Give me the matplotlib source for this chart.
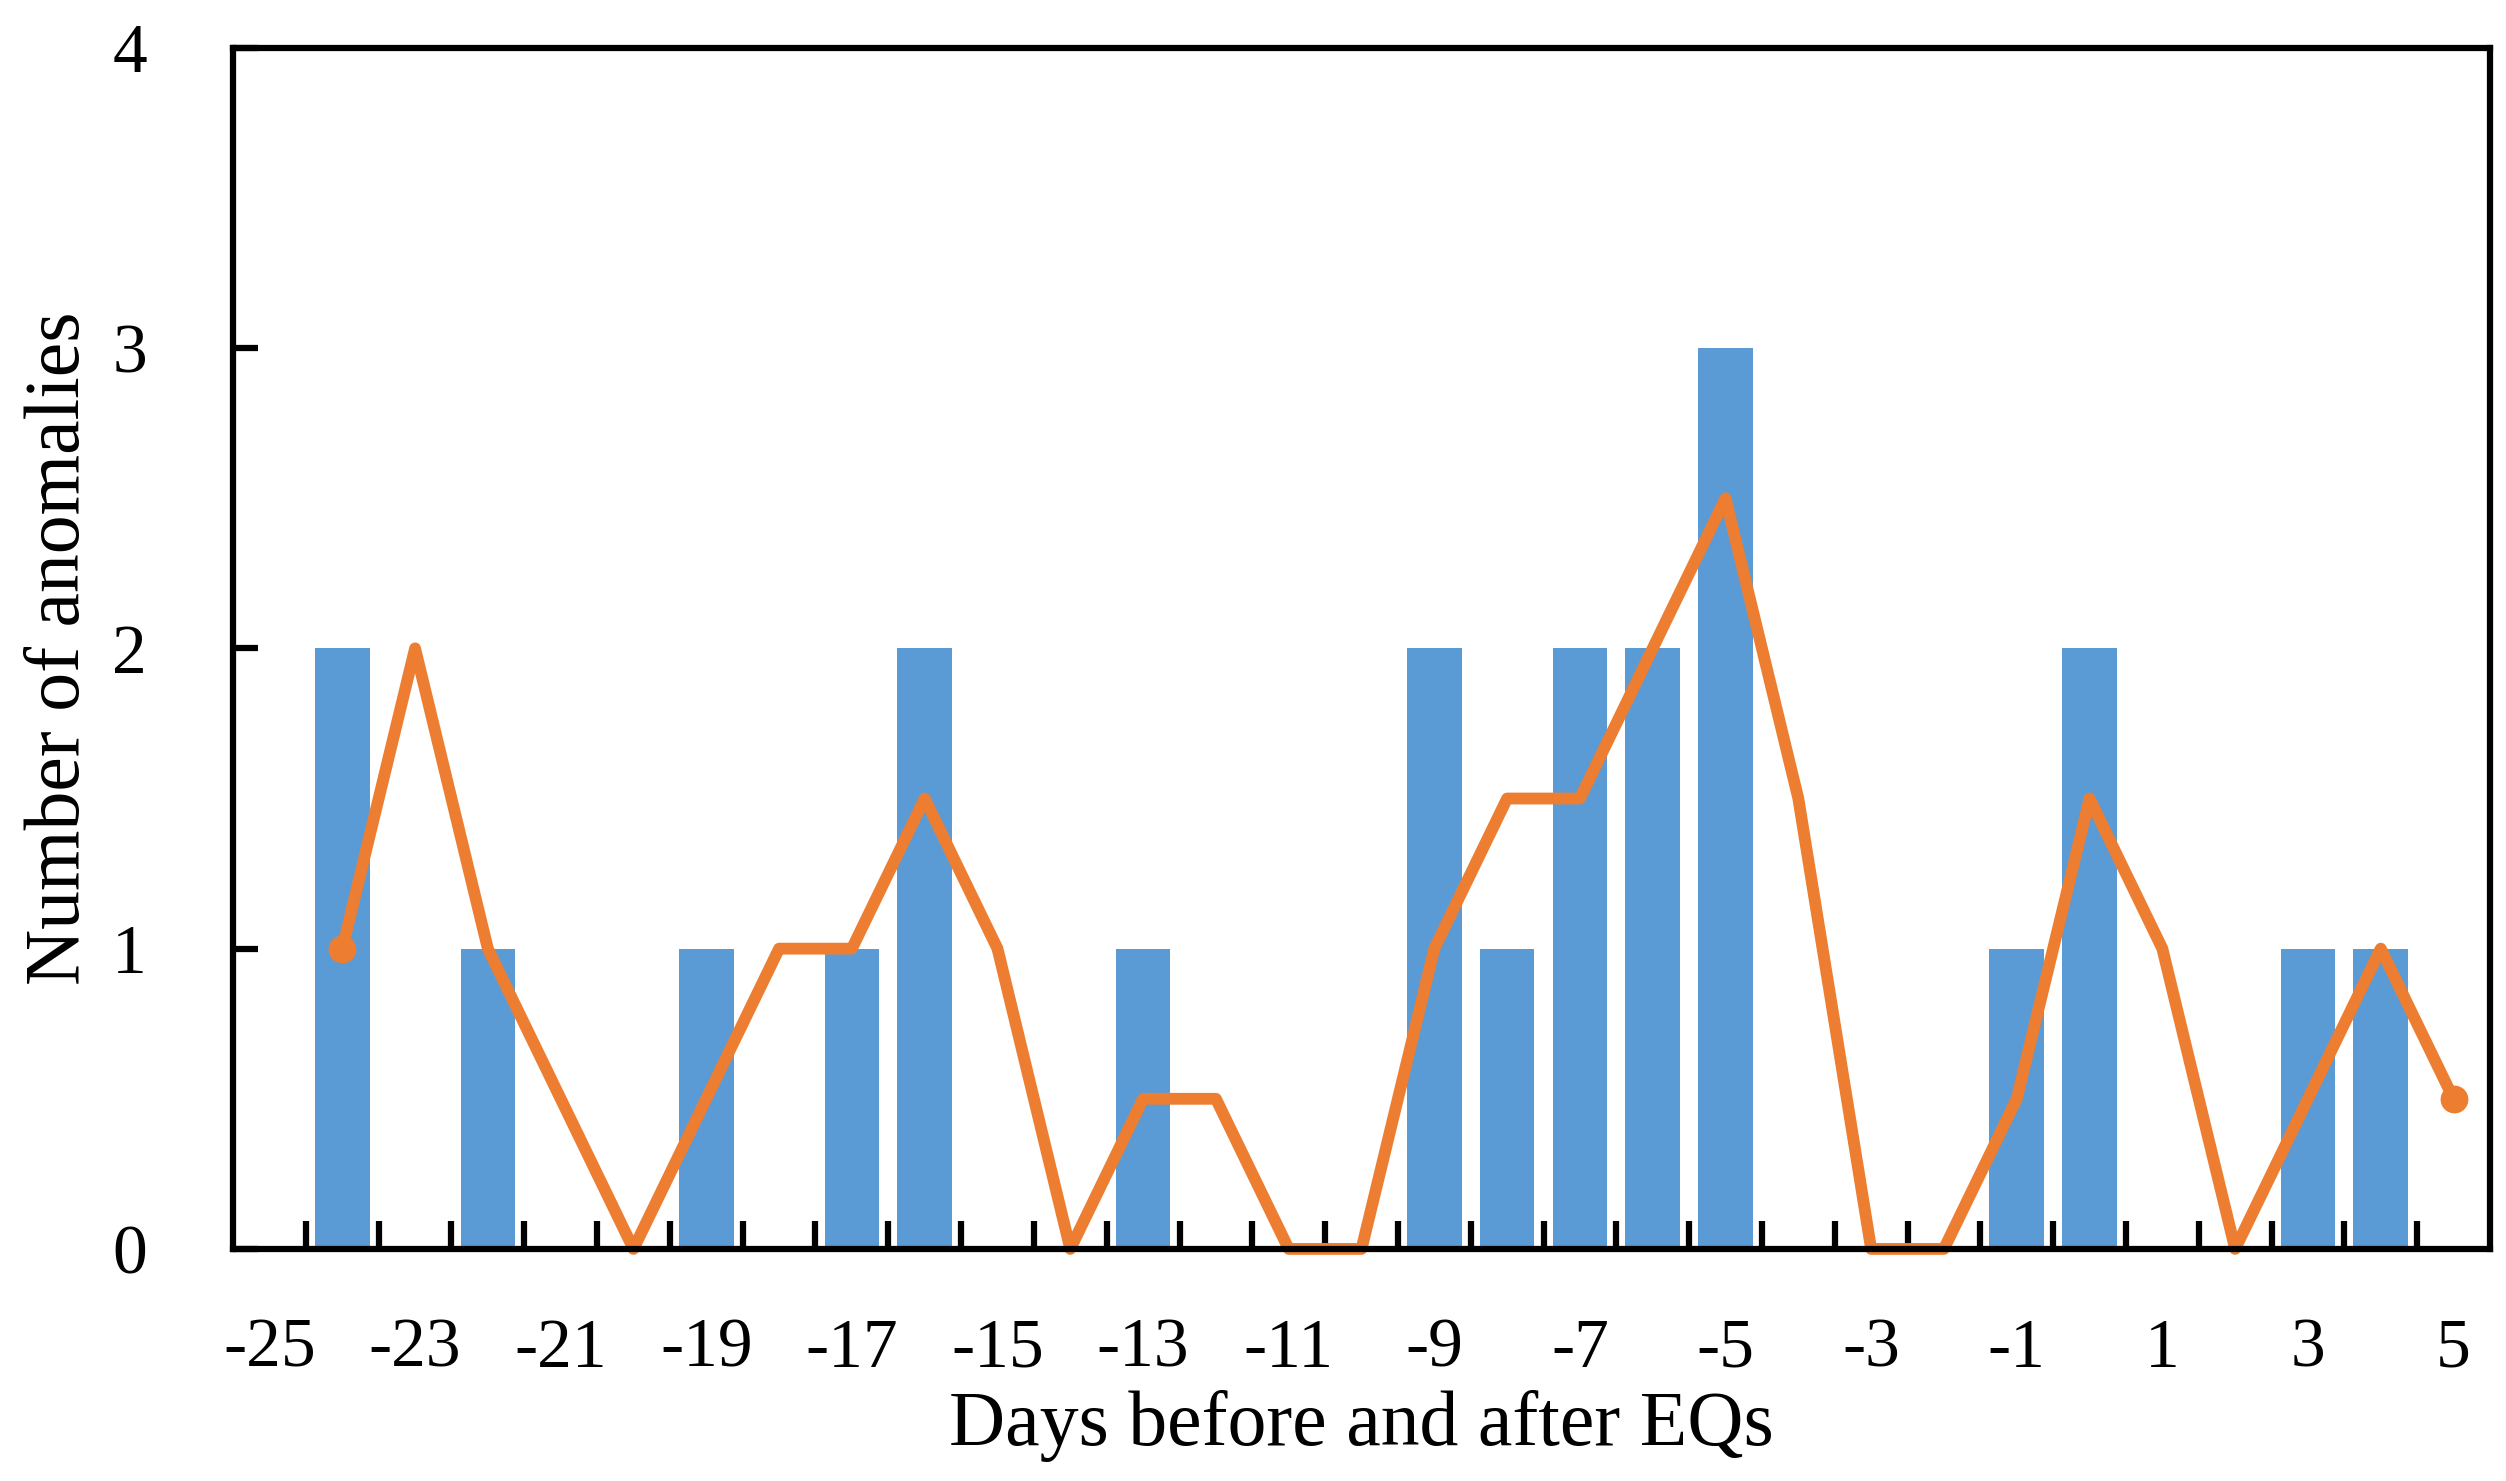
import matplotlib
matplotlib.use('Agg')
import matplotlib.pyplot as plt
import numpy as np

# bar data: days with anomalies
bar_days = [-24, -22, -19, -17, -16, -13, -9, -8, -7, -6, -5, -1, 0, 3, 4]
bar_counts = [2, 1, 1, 1, 2, 1, 2, 1, 2, 2, 3, 1, 2, 1, 1]

# smoothed line
line_days = list(range(-24, 6))
line_vals = [1, 2, 1, 0.5, 0, 0.5, 1, 1, 1.5, 1, 0, 0.5, 0.5, 0, 0,
             1, 1.5, 1.5, 2, 2.5, 1.5, 0, 0, 0.5, 1.5, 1, 0, 0.5, 1, 0.5]

xtick_vals = list(range(-25, 6, 2))
ytick_vals = [0, 1, 2, 3, 4]

plt.rcParams['font.family'] = ['Liberation Serif', 'DejaVu Serif']
plt.rcParams['axes.unicode_minus'] = False

fig = plt.figure(figsize=(25.06, 14.81), dpi=100)
ax = fig.add_axes([0.093, 0.1567, 0.9006, 0.811])

ax.bar(bar_days, bar_counts, width=0.75, color='#5B9BD5', zorder=2)
ax.plot(line_days, line_vals, color='#ED7D31', lw=8.5, marker='o', markersize=19,
        markevery=[0, len(line_days) - 1], zorder=3, clip_on=False)

ax.set_xlim(-25.5, 5.5)
ax.set_ylim(0, 4)
ax.set_xticks(xtick_vals)
ax.set_xticks(np.arange(-24.5, 5, 1), minor=True)
ax.set_yticks(ytick_vals)
ax.tick_params(axis='x', which='major', length=0, pad=50, labelsize=50)
ax.tick_params(axis='x', which='minor', direction='in', length=20, width=4.5)
ax.tick_params(axis='y', direction='in', length=18, width=4.5, pad=62, labelsize=50)

for s in ax.spines.values():
    s.set_linewidth(4.5)
    s.set_zorder(4)

ax.set_xlabel('Days before and after EQs', fontsize=56, labelpad=6)
ax.set_ylabel('Number of anomalies', fontsize=56, labelpad=12)

fig.savefig('out.png', dpi=100)
